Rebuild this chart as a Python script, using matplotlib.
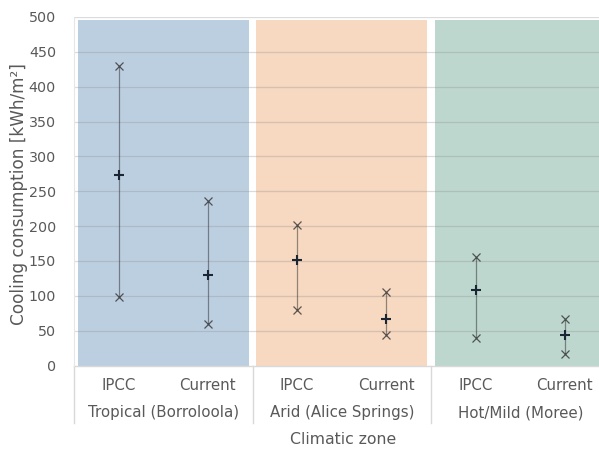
import matplotlib
matplotlib.use("Agg")
import matplotlib.pyplot as plt
from matplotlib.transforms import blended_transform_factory

# cooling consumption per climatic zone, kWh/m2
zones = ["Tropical (Borroloola)", "Arid (Alice Springs)", "Hot/Mild (Moree)"]
cases = ["IPCC", "Current"]
zone_colors = ["#bccfe1", "#f7d8c1", "#bdd7ce"]

val_max = [430, 236, 202, 106, 156, 67]
val_mean = [274, 130, 151, 66, 109, 44]
val_min = [98, 60, 79, 44, 39, 17]

panel_height = 495
txt = "#595959"

fig = plt.figure(figsize=(5.99, 4.55), dpi=100)
W, H = 599, 455
x0, x1, y0, y1 = 74, 609.5, 365.5, 17
ax = fig.add_axes([x0 / W, (H - y0) / H, (x1 - x0) / W, (y0 - y1) / H])

n = len(zones) * len(cases)
xs = list(range(n))
centers = [i * len(cases) + (len(cases) - 1) / 2 for i in range(len(zones))]

ax.bar(centers, [panel_height] * len(zones), width=1.92, color=zone_colors, zorder=1)

for y in range(50, 501, 50):
    ax.axhline(y, color="#8a8a8a", alpha=0.3, lw=0.9, zorder=2)
ax.axhline(0, color="#d9d9d9", lw=1.0, zorder=2, clip_on=False)

ax.vlines(xs, val_min, val_max, color="#2b2b2b", alpha=0.5, lw=0.9, zorder=3)
ax.plot(xs, val_max, "x", color="#333333", alpha=0.8, ms=6, mew=0.9, zorder=4)
ax.plot(xs, val_min, "x", color="#333333", alpha=0.8, ms=6, mew=0.9, zorder=4)
ax.plot(xs, val_mean, "+", color="#1a2633", ms=7.5, mew=1.5, zorder=5)

ax.set_xlim(-0.5, n - 0.5)
ax.set_ylim(0, 500)
ax.set_yticks(range(0, 501, 50))
ax.tick_params(axis="y", length=0, pad=13, labelsize=10.3, labelcolor=txt)
ax.set_xticks([])
for s in ["top", "right", "bottom"]:
    ax.spines[s].set_visible(False)
ax.spines["left"].set_color("#e6e6e6")

# two-level category axis
tr = blended_transform_factory(ax.transData, ax.transAxes)
hax = y0 - y1
for i, x in enumerate(xs):
    ax.text(x, -19.5 / hax, cases[i % len(cases)], transform=tr, ha="center",
            va="center", fontsize=10.8, color=txt)
for c, z in zip(centers, zones):
    ax.text(c, -47 / hax, z, transform=tr, ha="center", va="center",
            fontsize=10.8, color=txt)
for b in range(len(zones) + 1):
    ax.plot([b * len(cases) - 0.5] * 2, [0, -57 / hax], transform=tr,
            color="#d9d9d9", lw=1.0, clip_on=False)

fig.text(343 / W, (H - 440) / H, "Climatic zone", ha="center", va="center",
         fontsize=11.3, color=txt)
fig.text(19 / W, (H - 194) / H, "Cooling consumption [kWh/m\u00b2]", ha="center",
         va="center", rotation=90, fontsize=12.2, color=txt)

fig.savefig("out.png", dpi=100)
